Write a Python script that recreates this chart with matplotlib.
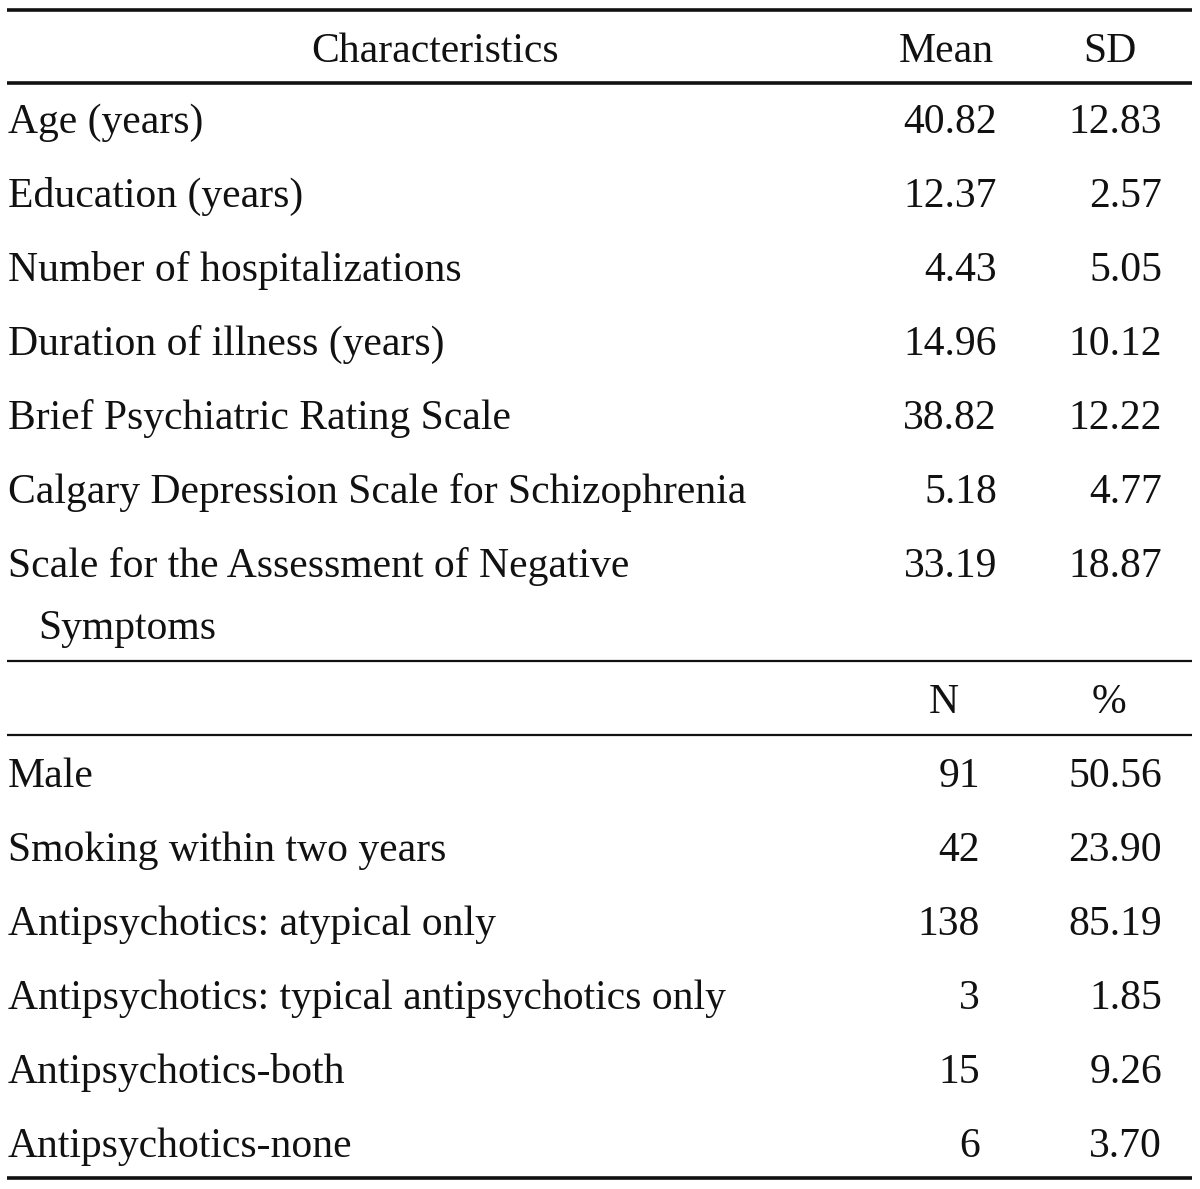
import matplotlib.pyplot as plt

# table content
mean_labels = ["Age (years)", "Education (years)", "Number of hospitalizations",
               "Duration of illness (years)", "Brief Psychiatric Rating Scale",
               "Calgary Depression Scale for Schizophrenia",
               "Scale for the Assessment of Negative"]
mean_wrap = "Symptoms"  # second line of the last label
mean_vals = ["40.82", "12.37", "4.43", "14.96", "38.82", "5.18", "33.19"]
sd_vals = ["12.83", "2.57", "5.05", "10.12", "12.22", "4.77", "18.87"]

count_labels = ["Male", "Smoking within two years", "Antipsychotics: atypical only",
                "Antipsychotics: typical antipsychotics only", "Antipsychotics-both",
                "Antipsychotics-none"]
n_vals = ["91", "42", "138", "3", "15", "6"]
pct_vals = ["50.56", "23.90", "85.19", "1.85", "9.26", "3.70"]

W, H = 1200, 1189
fig = plt.figure(figsize=(W / 100, H / 100), dpi=100)
ax = fig.add_axes([0, 0, 1, 1])
ax.set_xlim(0, W)
ax.set_ylim(H, 0)
ax.axis("off")

fs = 30
font = dict(family="Liberation Serif", fontsize=fs, color="#111111")
step = 74.0
xl, xm, xs, xn = 8, 997, 1162, 980

# rules
ax.hlines([10, 83, 1178], 7, 1192, color="#111111", lw=2.6)
ax.hlines([661, 735], 7, 1192, color="#111111", lw=1.6)

# header
ax.text(435, 62, "Characteristics", ha="center", va="baseline", **font)
ax.text(946, 62, "Mean", ha="center", va="baseline", **font)
ax.text(1110, 62, "SD", ha="center", va="baseline", **font)

y0 = 133
for i, (lab, m, s) in enumerate(zip(mean_labels, mean_vals, sd_vals)):
    y = y0 + i * step
    ax.text(xl, y, lab, ha="left", va="baseline", **font)
    ax.text(xm, y, m, ha="right", va="baseline", **font)
    ax.text(xs, y, s, ha="right", va="baseline", **font)
ax.text(xl + 30, y0 + 6 * step + 62, mean_wrap, ha="left", va="baseline", **font)

ax.text(944, 713, "N", ha="center", va="baseline", **font)
ax.text(1109, 713, "%", ha="center", va="baseline", **font)

y1 = 787
for i, (lab, n, p) in enumerate(zip(count_labels, n_vals, pct_vals)):
    y = y1 + i * step
    ax.text(xl, y, lab, ha="left", va="baseline", **font)
    ax.text(xn, y, n, ha="right", va="baseline", **font)
    ax.text(xs, y, p, ha="right", va="baseline", **font)

fig.savefig("out.png", dpi=100, facecolor="white")
